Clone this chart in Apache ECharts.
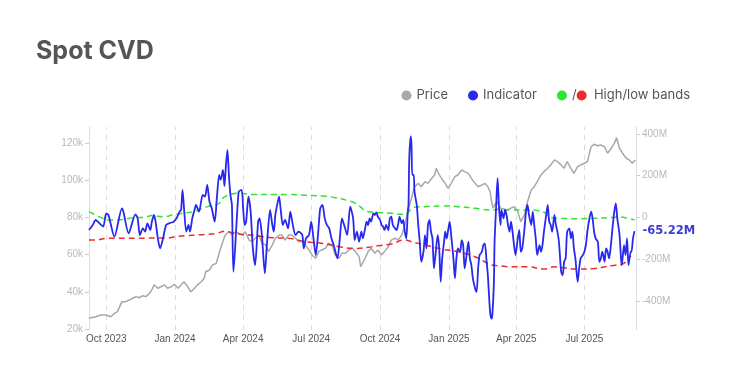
<!DOCTYPE html>
<html><head><meta charset="utf-8">
<script src="https://cdn.jsdelivr.net/npm/echarts@6/dist/echarts.min.js"></script>
<style>html,body{margin:0;padding:0;background:#fff}#c{width:731px;height:365px}</style>
</head><body><div id="c"></div>
<script>
// ---- data ----
const startDate = '2023-09-08';
const endDay = 731;
const tickDates = ['2023-10-01','2024-01-01','2024-04-01','2024-07-01','2024-10-01','2025-01-01','2025-04-01','2025-07-01'];
const tickLabels = ['Oct 2023','Jan 2024','Apr 2024','Jul 2024','Oct 2024','Jan 2025','Apr 2025','Jul 2025'];
const priceTicks = [20,40,60,80,100,120];
const indTicks = [-400,-200,0,200,400];

// Indicator (Spot CVD, millions): day offset from startDate, value
const indDays = [0,5,9,14,19,23,26,34,44,46,53,62,65,68,72,75,78,82,84,87,89,92,95,99,103,107,113,117,121,123,125,127,130,133,135,138,141,143,147,152,155,158,161,164,168,171,174,176,179,181,183,185,187,189,191,193,200,204,206,208,210,213,216,219,222,226,228,231,235,238,242,245,247,249,251,254,256,259,262,266,269,272,276,280,285,287,290,294,297,300,303,306,309,312,315,318,321,324,327,332,335,338,341,345,349,353,355,358,361,364,366,369,371,373,375,377,380,382,384,386,389,391,393,395,397,400,402,404,406,409,411,413,415,418,420,422,424,426,427,428,430,431,432,434,435,438,440,442,444,447,449,451,453,455,457,459,461,463,466,468,470,472,475,476,478,480,482,484,487,489,491,493,496,498,500,502,504,507,509,511,513,516,518,520,522,525,527,529,531,533,536,538,539,541,542,544,546,548,550,551,554,556,558,560,562,564,566,568,570,573,575,577,579,582,584,586,588,591,593,595,597,599,602,604,606,608,611,613,615,617,619,622,624,626,628,631,633,635,637,639,642,644,646,648,650,653,655,657,660,662,664,666,668,671,673,675,677,680,682,684,686,689,691,693,695,697,700,702,704,706,709,711,712,715,717,719,721,724,725,727,729];
const indVals = [-60,-36,-12,-28,-44,20,12,-92,44,28,-76,15,-4,-84,-52,-68,-28,-60,-20,12,-20,-100,-148,-100,-36,-28,-20,-4,28,36,132,44,-68,-36,-68,-4,36,60,28,108,100,156,76,44,-20,100,204,180,228,150,250,324,200,108,60,-260,124,132,44,-36,-20,100,28,-148,-228,-20,-4,-84,-268,-116,36,-36,-68,12,52,100,44,-36,-12,-52,28,-28,-84,-68,-84,-148,-100,-84,-20,-100,-180,-84,44,60,-4,-36,-52,-100,-132,-196,-108,-4,-36,-84,52,-4,-108,-68,-116,-68,-100,-52,-20,-36,-4,-20,20,12,25,4,-12,-36,-44,-60,-36,-60,-4,4,-36,-52,-60,-36,4,-28,-12,-68,-100,28,60,284,388,348,204,204,124,60,-36,-116,-212,-164,-84,-148,-36,-12,-68,-100,-244,-180,-84,-148,-308,-196,-100,-68,-100,-60,-20,-84,-196,-292,-196,-148,-164,-108,-132,-244,-196,-116,-196,-228,-292,-340,-356,-244,-180,-164,-132,-124,-196,-276,-452,-484,-468,-324,-116,44,188,44,-36,36,-4,36,12,-36,-68,-20,-68,-132,-180,-100,-60,-164,-148,-52,28,60,12,-36,28,-36,-100,-180,-132,-164,-132,-68,12,60,-20,-36,-68,12,-36,-68,-116,-260,-276,-212,-196,-68,-52,-100,-68,-148,-196,-308,-244,-196,-180,-164,-132,-68,-20,28,-4,-68,-100,-116,-212,-196,-164,-212,-148,-164,-196,-148,-36,28,68,-4,-84,-196,-228,-132,-180,-100,-228,-164,-164,-100,-65.22];

// BTC price (thousands USD)
const priceDays = [0,9,16,23,29,34,38,41,44,49,54,58,63,67,72,76,81,85,87,92,96,101,105,110,114,119,123,127,132,136,141,145,150,154,156,161,165,170,172,174,176,179,182,187,191,196,200,205,209,214,218,222,227,231,236,240,245,249,254,258,262,267,271,276,280,285,289,294,298,303,307,311,316,320,325,329,334,338,343,347,352,356,361,363,369,373,377,382,386,391,395,400,404,409,413,418,422,427,431,435,440,444,449,453,458,462,464,467,471,476,480,484,489,493,498,502,507,511,516,520,525,529,533,536,538,540,542,546,550,559,568,573,577,582,586,591,595,599,604,608,613,617,622,626,631,635,639,644,648,653,657,662,666,671,675,680,684,689,693,698,702,705,709,713,718,722,726,730];
const priceVals = [25.8,26.6,27.5,27.5,26.6,28.4,29.3,32,34.7,34.7,35.6,36.5,37.4,36.8,37.9,37.4,39.2,41.9,43.7,41.9,42.7,43.7,41.9,42.7,44,41.9,43.7,45.4,42.7,40,41.9,43.7,45.4,47.3,50.8,51.7,54.4,55.3,58,60.7,63.4,67,70.5,72.3,70.5,72.3,71.5,70.5,72.3,67.8,67,68.8,70.5,66.1,65.2,61.6,65.2,68.8,70.5,70.5,67.8,70.5,70.5,68.8,67,67,65.2,62.5,59.8,58,61.6,62.5,63.4,66.1,65.2,59.8,58,60.7,60.7,62.5,63.4,61.6,58.9,53.5,58,61.6,63.4,60.7,62.5,59.8,61.6,64.2,67.8,68.8,67.8,70.5,75.9,84.9,90.3,96.5,98.3,96.5,99.2,98.3,101,102.8,106.4,103.7,101,98.3,95.6,98.3,101.9,102.8,105.5,104.6,103.7,101,98.3,96.5,97.4,98.3,96.5,93.8,88.4,84.9,86.7,88.4,84.9,84,85.8,83.1,77.7,81.3,88.4,94.7,96.5,99.2,102.8,104.6,106.4,108.2,110.9,110,108.2,106.4,110,106.4,103.7,107.3,108.2,109.1,110,118,119.3,118.5,118.9,118,114.5,117.2,119.8,122.8,117.2,114.5,111.8,110.9,109.1,110.9];

// High band (millions)
const highDays = [0,9,18,27,36,45,54,63,72,85,99,112,125,139,152,165,174,178,187,200,222,245,267,289,312,329,347,356,365,369,382,404,418,427,431,449,471,493,516,538,547,564,586,608,617,631,653,675,698,711,720,729];
const highVals = [28,12,-4,-12,-12,-9,-4,0,0,9,4,12,20,28,44,60,68,90,108,116,110,110,110,106,103,95,80,68,44,31,25,20,16,25,47,52,55,52,44,36,39,36,36,25,0,-4,-6,-4,0,2,-4,-12];

// Low band (millions)
const lowDays = [0,9,23,36,49,63,76,90,103,116,130,143,156,170,183,191,205,222,245,267,289,312,334,356,373,386,404,422,431,449,471,493,516,529,538,547,564,586,608,622,631,653,675,698,711,720,724];
const lowVals = [-108,-108,-100,-100,-100,-100,-99,-98,-98,-92,-87,-84,-81,-76,-65,-73,-81,-87,-97,-100,-116,-124,-140,-148,-143,-135,-127,-108,-116,-132,-151,-164,-188,-212,-228,-231,-236,-236,-247,-236,-240,-247,-244,-231,-225,-204,-183];

// ---- build ----
const DAY = 86400000;
const t0 = Date.parse(startDate + 'T00:00:00Z');
const tickTs = tickDates.map(d => Date.parse(d + 'T00:00:00Z'));
const pair = (days, vals) => days.map((d, i) => [t0 + d * DAY, vals[i]]);

const BLUE = '#2828ee', GRAY = '#a8a8a8', GREEN = '#2ee62e', RED = '#ee2b2b';
const chart = echarts.init(document.getElementById('c'));
chart.setOption({
  animation: false,
  backgroundColor: '#fff',
  title: {
    text: 'Spot CVD', left: 31, top: 34,
    textStyle: { fontSize: 25, fontWeight: 'bold', color: '#555', fontFamily: 'Inter' }
  },
  legend: {
    right: 36, top: 84, itemWidth: 10, itemHeight: 10, itemGap: 20, icon: 'circle',
    data: ['Price', 'Indicator', 'High/low bands'],
    formatter: n => n === 'High/low bands' ? '{s|/}{r|}{t|  High/low bands}' : n,
    textStyle: {
      color: '#555', fontSize: 13, fontFamily: 'Inter',
      rich: {
        s: { color: '#555', fontSize: 13, fontFamily: 'Inter' },
        r: { width: 10, height: 10, borderRadius: 5, backgroundColor: RED },
        t: { color: '#555', fontSize: 13, fontFamily: 'Inter' }
      }
    }
  },
  grid: { left: 89, right: 95, top: 127, height: 203, containLabel: false },
  xAxis: {
    type: 'value', min: t0, max: t0 + endDay * DAY,
    axisLine: { show: false }, axisTick: { show: false }, splitLine: { show: false },
    axisLabel: {
      customValues: tickTs, margin: 4, color: '#555', fontSize: 10, fontFamily: 'Liberation Sans',
      formatter: v => { let b = 0; tickTs.forEach((t, i) => { if (Math.abs(t - v) < Math.abs(tickTs[b] - v)) b = i; }); return tickLabels[b]; }
    }
  },
  yAxis: [
    {
      type: 'value', position: 'left', min: 19.46, max: 128.6,
      axisLine: { show: true, lineStyle: { color: '#ddd' } },
      axisTick: { show: true, length: 4, lineStyle: { color: '#ccc' }, customValues: priceTicks },
      splitLine: { show: false },
      axisLabel: { customValues: priceTicks, formatter: v => v + 'k', color: '#b8b8b8', fontSize: 10, fontFamily: 'Liberation Sans', margin: 6 }
    },
    {
      type: 'value', position: 'right', min: -538.9, max: 433.5,
      axisLine: { show: true, lineStyle: { color: '#ddd' } },
      axisTick: { show: true, length: 4, lineStyle: { color: '#ccc' }, customValues: indTicks },
      splitLine: { show: false },
      axisLabel: { customValues: indTicks, formatter: v => v === 0 ? '0' : v + 'M', color: '#b8b8b8', fontSize: 10, fontFamily: 'Liberation Sans', margin: 6 }
    }
  ],
  series: [
    {
      name: 'Price', type: 'line', yAxisIndex: 0, data: pair(priceDays, priceVals),
      showSymbol: false, color: GRAY, itemStyle: { color: GRAY }, lineStyle: { color: GRAY, width: 1.5 },
      markLine: {
        z: 1, silent: true, symbol: ['none', 'none'], label: { show: false },
        lineStyle: { color: '#dcdcdc', type: [5, 5], width: 1 },
        data: tickTs.map(t => ({ xAxis: t }))
      }
    },
    {
      name: 'High/low bands', type: 'line', yAxisIndex: 1, data: pair(highDays, highVals), smooth: true,
      showSymbol: false, color: GREEN, itemStyle: { color: GREEN }, lineStyle: { color: GREEN, width: 1.5, type: [6, 4] }
    },
    {
      name: 'Low band', type: 'line', yAxisIndex: 1, data: pair(lowDays, lowVals), smooth: true,
      showSymbol: false, color: RED, itemStyle: { color: RED }, lineStyle: { color: RED, width: 1.5, type: [6, 4] }
    },
    {
      name: 'Indicator', type: 'line', yAxisIndex: 1, data: pair(indDays, indVals), smooth: 0.25,
      showSymbol: false, color: BLUE, itemStyle: { color: BLUE }, lineStyle: { color: BLUE, width: 1.8 },
      endLabel: {
        show: true, distance: 8, color: '#3d3dd6', fontWeight: 'bold', fontSize: 11.5, fontFamily: 'DejaVu Sans',
        formatter: p => p.value[1].toFixed(2) + 'M'
      }
    }
  ]
});
</script></body></html>
